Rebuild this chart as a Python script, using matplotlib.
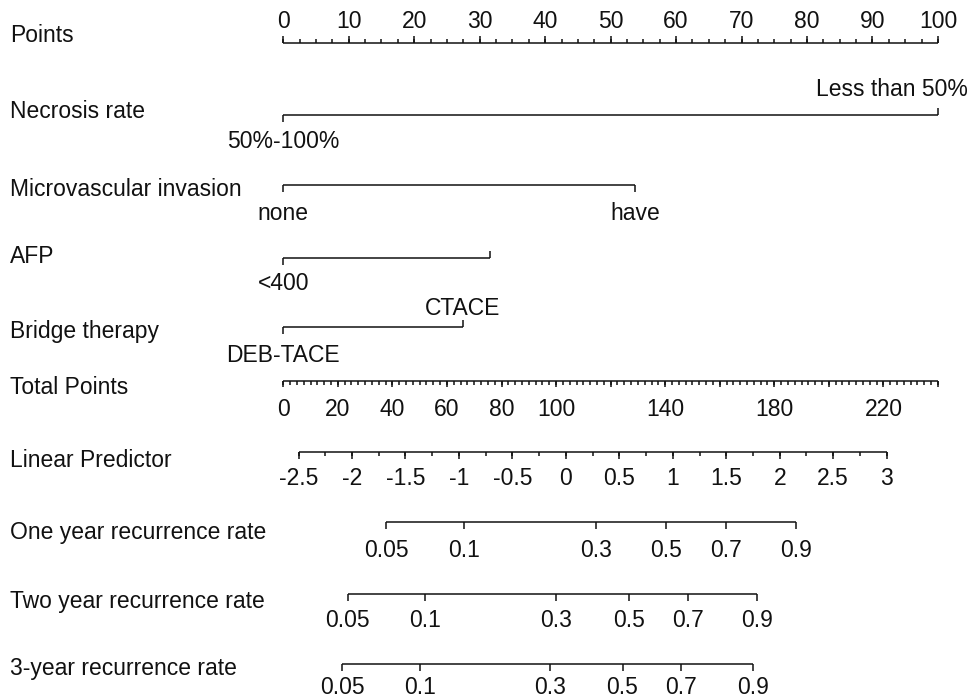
import matplotlib
matplotlib.use("Agg")
import matplotlib.pyplot as plt
import matplotlib.transforms as mtransforms
import numpy as np

plt.rcParams['font.family'] = ['Liberation Sans', 'DejaVu Sans']

# values
points_labels = [0, 10, 20, 30, 40, 50, 60, 70, 80, 90, 100]

necrosis_levels = ["50%-100%", "Less than 50%"]
necrosis_points = [0, 100]
mvi_levels = ["none", "have"]
mvi_points = [0, 53.7]
afp_levels = ["<400", ""]
afp_points = [0, 31.6]
bridge_levels = ["DEB-TACE", "CTACE"]
bridge_points = [0, 27.4]

total_max = 240
total_labels = [0, 20, 40, 60, 80, 100, 140, 180, 220]

lp_labels = [-2.5, -2, -1.5, -1, -0.5, 0, 0.5, 1, 1.5, 2, 2.5, 3]
lp_zero_total = 103.6   # total points where the linear predictor is 0
total_per_lp = 39.2

prob_labels = ["0.05", "0.1", "0.3", "0.5", "0.7", "0.9"]
one_year_lp = [-1.68, -0.95, 0.28, 0.94, 1.50, 2.15]
two_year_lp = [-2.04, -1.32, -0.09, 0.59, 1.14, 1.79]
three_year_lp = [-2.09, -1.36, -0.15, 0.53, 1.08, 1.75]

INK = "#111111"
LW = 1.1
FS = 16.5

fig = plt.figure(figsize=(9.72, 7.0), dpi=100)
ax = fig.add_axes([0, 0, 1, 1])
ax.set_xlim(-43.27, 105.2)
ax.set_ylim(700, 0)
ax.axis("off")
lab_tr = mtransforms.blended_transform_factory(ax.transAxes, ax.transData)


def tot2pts(t):
    return np.asarray(t, dtype=float) * 100.0 / total_max


def lp2pts(lp):
    return tot2pts(lp_zero_total + np.asarray(lp, dtype=float) * total_per_lp)


def hline(x0, x1, y):
    ax.plot([x0, x1], [y, y], color=INK, lw=LW, solid_capstyle="butt")


def ticks(xs, y, length):
    # length > 0 draws downward (y axis is inverted)
    ax.vlines(xs, y, y + length, color=INK, lw=LW)


def row_name(text, base):
    ax.text(10 / 972, base, text, transform=lab_tr, fontsize=FS,
            color=INK, va="baseline", ha="left")


def label(x, base, text, ha="center"):
    ax.text(x, base, text, fontsize=FS, color=INK, va="baseline", ha=ha)


# Points
y = 43
row_name("Points", 42)
hline(0, 100, y)
ticks(np.arange(0, 100.1, 2.5), y, -4.5)
ticks(points_labels, y, -7.5)
for v in points_labels:
    label(v, 28, str(v))


def factor_row(name, name_base, y, pts, levels, up_base, low_base):
    row_name(name, name_base)
    hline(pts[0], pts[-1], y)
    for i, (p, lev) in enumerate(zip(pts, levels)):
        if i % 2 == 1 and up_base is not None:
            ticks([p], y, -7)
            if lev:
                if p > 90:
                    label(ax.get_xlim()[1] - 0.6, up_base, lev, ha="right")
                else:
                    label(p, up_base, lev)
        else:
            ticks([p], y, 7)
            if lev:
                label(p, low_base, lev)


factor_row("Necrosis rate", 118, 115, necrosis_points, necrosis_levels, 96, 148)
factor_row("Microvascular invasion", 196, 185, mvi_points, mvi_levels, None, 220)
factor_row("AFP", 263, 258, afp_points, afp_levels, 250, 290)
factor_row("Bridge therapy", 338, 327, bridge_points, bridge_levels, 315, 362)

# Total Points
y = 381
row_name("Total Points", 394)
hline(0, tot2pts(total_max), y)
ticks(tot2pts(np.arange(0, total_max + 0.1, 2.5)), y, 3.5)
ticks(tot2pts(np.arange(0, total_max + 0.1, 20)), y, 5.5)
for v in total_labels:
    label(tot2pts(v), 416, str(v))

# Linear Predictor
y = 452
row_name("Linear Predictor", 467)
hline(lp2pts(lp_labels[0]), lp2pts(lp_labels[-1]), y)
ticks(lp2pts(np.arange(lp_labels[0], lp_labels[-1] + 0.01, 0.25)), y, 3.5)
ticks(lp2pts(lp_labels), y, 6.5)
for v in lp_labels:
    label(lp2pts(v), 485, f"{v:g}")

# recurrence rates
for name, lps, y, nb, lb in [
    ("One year recurrence rate", one_year_lp, 522, 539, 557),
    ("Two year recurrence rate", two_year_lp, 594, 608, 627),
    ("3-year recurrence rate", three_year_lp, 664, 675, 694),
]:
    row_name(name, nb)
    xs = lp2pts(lps)
    hline(xs[0], xs[-1], y)
    ticks(xs, y, 7)
    for x, t in zip(xs, prob_labels):
        label(x, lb, t)

fig.savefig("out.png", dpi=100, facecolor="white")
